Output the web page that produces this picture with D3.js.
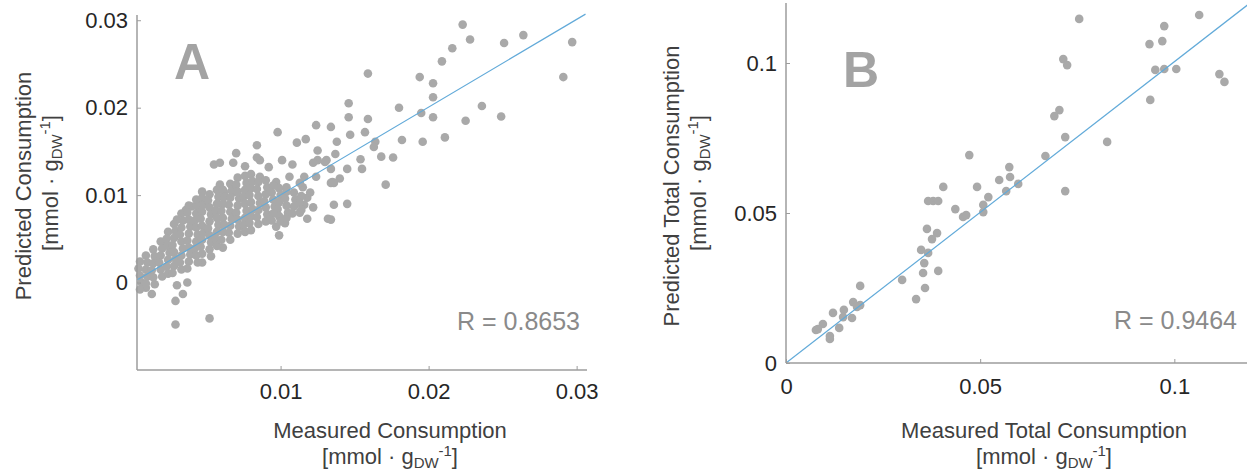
<!DOCTYPE html>
<html>
<head>
<meta charset="utf-8">
<script src="https://cdn.jsdelivr.net/npm/d3@7"></script>
<style>
  html, body { margin: 0; padding: 0; background: #fff; }
  svg { display: block; font-family: "Liberation Sans", Arial, sans-serif; }
</style>
</head>
<body>
<svg id="chart" width="1247" height="475"></svg>
<script>
// ---------- DATA ----------
// Panel A: [measured, predicted] (mmol/gDW)
const pointsA_sparse = [
  [0.0029,-0.0048],[0.0052,-0.0041],[0.0009,-0.0006],[0.0013,-0.0013],[0.0030,-0.0003],[0.0037,0.0000],[0.0034,-0.0013],[0.0029,-0.0021],
  [0.0223,0.0295],[0.0228,0.0278],[0.0216,0.0268],[0.0209,0.0253],[0.0251,0.0274],[0.0264,0.0283],[0.0297,0.0275],[0.0291,0.0235],
  [0.0159,0.0239],[0.0194,0.0235],[0.0203,0.0228],[0.0203,0.0212],[0.0236,0.0202],[0.0249,0.0190],[0.0225,0.0185],[0.0203,0.0189],[0.0195,0.0194],[0.0180,0.0200],
  [0.0211,0.0166],[0.0196,0.0161],[0.0182,0.0163],[0.0176,0.0143],[0.0168,0.0144],[0.0171,0.0112],
  [0.0146,0.0205],[0.0146,0.0189],[0.0159,0.0187],[0.0147,0.0169],[0.0157,0.0172],[0.0164,0.0161],[0.0163,0.0155],[0.0154,0.0141],[0.0155,0.0130],[0.0145,0.0130],[0.0140,0.0119],[0.0134,0.0114],[0.0136,0.0114],[0.0145,0.0090],[0.0136,0.0089],[0.0122,0.0086],[0.0132,0.0073],[0.0118,0.0073],
  [0.0138,0.0161],[0.0137,0.0147],[0.0134,0.0178],[0.0124,0.0180],[0.0117,0.0164],[0.0125,0.0151],[0.0125,0.0140],[0.0131,0.0140],[0.0134,0.0130],[0.0116,0.0121],[0.0115,0.0109],[0.0118,0.0097],[0.0116,0.0089],
  [0.0098,0.0172],[0.0111,0.0160],[0.0084,0.0157],[0.0070,0.0148],[0.0059,0.0137],[0.0055,0.0135],[0.0068,0.0137],[0.0076,0.0133],[0.0086,0.0140],[0.0092,0.0132],[0.0101,0.0140],[0.0108,0.0135],[0.0122,0.0137],
  [0.0059,0.0112],[0.0047,0.0104],[0.0068,0.0103],[0.0077,0.0106],[0.0086,0.0121],[0.0097,0.0115],[0.0104,0.0109],[0.0113,0.0114],[0.0120,0.0103],[0.0124,0.0121],[0.0084,0.0143],[0.0130,0.0138],[0.0106,0.0121],[0.0135,0.0115],[0.0134,0.0072],[0.0097,0.0064],[0.0103,0.0068],[0.0099,0.0054],[0.0113,0.0080],
  [0.0053,0.0030],[0.0047,0.0023],[0.0061,0.0040],[0.0022,0.0044],[0.0044,0.0092],[0.0036,0.0083],[0.0040,0.0087],[0.0030,0.0072],[0.0062,0.0103],[0.0067,0.0111]
];
const pointsA_dense = [
  [0.0005,0.0024],[0.0004,0.0016],[0.0005,0.0008],[0.0006,0.0000],[0.0005,-0.0008],
  [0.0009,0.0031],[0.0010,0.0023],[0.0009,0.0015],[0.0010,0.0007],[0.0009,-0.0001],
  [0.0014,0.0038],[0.0015,0.0030],[0.0014,0.0022],[0.0013,0.0014],[0.0014,0.0006],[0.0015,-0.0002],
  [0.0019,0.0047],[0.0020,0.0039],[0.0019,0.0031],[0.0018,0.0023],[0.0019,0.0015],[0.0020,0.0007],
  [0.0024,0.0058],[0.0023,0.0050],[0.0024,0.0042],[0.0025,0.0034],[0.0024,0.0026],[0.0023,0.0018],[0.0024,0.0010],
  [0.0028,0.0067],[0.0029,0.0059],[0.0028,0.0051],[0.0027,0.0043],[0.0028,0.0035],[0.0029,0.0027],[0.0028,0.0019],[0.0027,0.0011],
  [0.0033,0.0079],[0.0034,0.0071],[0.0033,0.0063],[0.0032,0.0055],[0.0033,0.0047],[0.0034,0.0039],[0.0033,0.0031],[0.0032,0.0023],[0.0033,0.0015],
  [0.0038,0.0088],[0.0037,0.0080],[0.0038,0.0072],[0.0039,0.0064],[0.0038,0.0056],[0.0037,0.0048],[0.0038,0.0040],[0.0039,0.0032],[0.0038,0.0024],[0.0037,0.0016],
  [0.0043,0.0095],[0.0044,0.0087],[0.0043,0.0079],[0.0042,0.0071],[0.0043,0.0063],[0.0044,0.0055],[0.0043,0.0047],[0.0042,0.0039],[0.0043,0.0031],[0.0044,0.0023],
  [0.0047,0.0097],[0.0048,0.0089],[0.0047,0.0081],[0.0046,0.0073],[0.0047,0.0065],[0.0048,0.0057],[0.0047,0.0049],[0.0046,0.0041],[0.0047,0.0033],
  [0.0052,0.0101],[0.0051,0.0094],[0.0052,0.0086],[0.0053,0.0078],[0.0052,0.0070],[0.0051,0.0062],[0.0052,0.0054],[0.0053,0.0046],[0.0052,0.0038],
  [0.0057,0.0106],[0.0058,0.0098],[0.0057,0.0090],[0.0056,0.0082],[0.0057,0.0074],[0.0058,0.0066],[0.0057,0.0058],[0.0056,0.0050],[0.0057,0.0042],
  [0.0061,0.0106],[0.0062,0.0098],[0.0061,0.0090],[0.0060,0.0082],[0.0061,0.0074],[0.0062,0.0066],[0.0061,0.0058],[0.0060,0.0049],
  [0.0066,0.0113],[0.0067,0.0105],[0.0066,0.0097],[0.0065,0.0089],[0.0066,0.0081],[0.0067,0.0073],[0.0066,0.0065],[0.0065,0.0057],[0.0066,0.0049],
  [0.0071,0.0120],[0.0070,0.0112],[0.0071,0.0104],[0.0072,0.0096],[0.0071,0.0088],[0.0070,0.0080],[0.0071,0.0072],[0.0072,0.0064],[0.0071,0.0056],
  [0.0076,0.0122],[0.0077,0.0114],[0.0076,0.0106],[0.0075,0.0098],[0.0076,0.0090],[0.0077,0.0082],[0.0076,0.0074],[0.0075,0.0066],[0.0076,0.0058],
  [0.0080,0.0124],[0.0081,0.0116],[0.0080,0.0108],[0.0079,0.0100],[0.0080,0.0092],[0.0081,0.0084],[0.0080,0.0076],[0.0079,0.0068],[0.0080,0.0060],
  [0.0085,0.0115],[0.0084,0.0107],[0.0085,0.0099],[0.0086,0.0091],[0.0085,0.0083],[0.0084,0.0075],[0.0085,0.0067],
  [0.0090,0.0117],[0.0091,0.0109],[0.0090,0.0101],[0.0089,0.0093],[0.0090,0.0086],[0.0091,0.0078],[0.0090,0.0070],
  [0.0095,0.0111],[0.0094,0.0103],[0.0095,0.0095],[0.0096,0.0087],[0.0095,0.0079],[0.0094,0.0071],
  [0.0099,0.0108],[0.0100,0.0100],[0.0099,0.0092],[0.0098,0.0084],[0.0099,0.0076],[0.0100,0.0070],
  [0.0104,0.0104],[0.0103,0.0096],[0.0104,0.0088],[0.0105,0.0080],[0.0104,0.0074],
  [0.0109,0.0103],[0.0110,0.0095],[0.0109,0.0087],[0.0108,0.0079],
  [0.0114,0.0099],[0.0113,0.0091],[0.0114,0.0083]
];
const fitA = [[0.0003, 0.0003], [0.0306, 0.0307]];
const rLabelA = "R = 0.8653";

// Panel B: [measured total, predicted total]
const pointsB = [
  [0.0755,0.1147],[0.1064,0.1160],[0.0974,0.1123],[0.0936,0.1063],[0.0969,0.1073],[0.0951,0.0977],[0.0974,0.0980],[0.1005,0.0980],[0.0938,0.0877],[0.1116,0.0963],[0.1129,0.0937],
  [0.0714,0.1013],[0.0724,0.0993],[0.0704,0.0843],[0.0691,0.0823],[0.0719,0.0753],[0.0827,0.0737],[0.0668,0.0690],[0.0719,0.0573],
  [0.0472,0.0693],[0.0575,0.0653],[0.0577,0.0620],[0.0549,0.0610],[0.0598,0.0597],[0.0567,0.0573],[0.0521,0.0553],[0.0492,0.0587],[0.0405,0.0587],
  [0.0379,0.0540],[0.0392,0.0540],[0.0366,0.0540],[0.0436,0.0513],[0.0456,0.0487],[0.0464,0.0493],[0.0508,0.0527],[0.0508,0.0503],[0.0389,0.0433],[0.0363,0.0447],
  [0.0376,0.0413],[0.0348,0.0377],[0.0366,0.0367],[0.0356,0.0333],[0.0392,0.0307],[0.0353,0.0300],[0.0299,0.0277],[0.0358,0.0250],[0.0335,0.0213],
  [0.0191,0.0257],[0.0191,0.0193],[0.0173,0.0203],[0.0183,0.0187],[0.0149,0.0177],[0.0170,0.0150],[0.0147,0.0153],[0.0121,0.0167],[0.0137,0.0117],
  [0.0095,0.0130],[0.0082,0.0113],[0.0077,0.0110],[0.0113,0.0080],[0.0113,0.0090]
];
const fitB = [[0, 0], [0.119, 0.1195]];
const rLabelB = "R = 0.9464";

const ticksAx = [0.01, 0.02, 0.03], ticksAxLabels = ["0.01", "0.02", "0.03"];
const ticksAy = [0, 0.01, 0.02, 0.03], ticksAyLabels = ["0", "0.01", "0.02", "0.03"];
const ticksBx = [0, 0.05, 0.1], ticksBxLabels = ["0", "0.05", "0.1"];
const ticksBy = [0, 0.05, 0.1], ticksByLabels = ["0", "0.05", "0.1"];

// ---------- DRAW ----------
const svg = d3.select("#chart");
const axisColor = "#9c9c9c", tickText = "#262626", labelColor = "#404040";
const dotColor = "#a9a9a9", lineColor = "#62aad9";

function panel(cfg) {
  const g = svg.append("g");
  const x = d3.scaleLinear().domain(cfg.xDomain).range(cfg.xRange);
  const y = d3.scaleLinear().domain(cfg.yDomain).range(cfg.yRange);

  // points
  g.append("g").selectAll("circle").data(cfg.points).join("circle")
    .attr("cx", d => x(d[0])).attr("cy", d => y(d[1])).attr("r", 4.3)
    .attr("fill", dotColor);

  // fit line
  g.append("path").datum(cfg.fit)
    .attr("d", d3.line().x(d => x(d[0])).y(d => y(d[1])))
    .attr("fill", "none").attr("stroke", lineColor).attr("stroke-width", 1.2);

  // axes
  const xa = g.append("g").attr("transform", `translate(0,${cfg.yRange[0]})`)
    .call(d3.axisBottom(x).tickValues(cfg.xTicks).tickFormat((d, i) => cfg.xTickLabels[i])
      .tickSizeInner(-4).tickSizeOuter(0).tickPadding(cfg.xPad));
  const ya = g.append("g").attr("transform", `translate(${cfg.xRange[0]},0)`)
    .call(d3.axisLeft(y).tickValues(cfg.yTicks).tickFormat((d, i) => cfg.yTickLabels[i])
      .tickSizeInner(-4).tickSizeOuter(0).tickPadding(9));
  [xa, ya].forEach(a => {
    a.select(".domain").remove();
    a.selectAll(".tick line").attr("stroke", axisColor).attr("stroke-width", 1);
    a.selectAll(".tick text").attr("fill", tickText).attr("font-size", 22)
      .attr("font-family", "Liberation Sans, Arial, sans-serif");
  });
  // axis lines
  g.append("line").attr("x1", cfg.xRange[0]).attr("x2", cfg.xRange[0])
    .attr("y1", cfg.yRange[1]).attr("y2", cfg.yRange[0])
    .attr("stroke", axisColor).attr("stroke-width", 1.5);
  g.append("line").attr("x1", cfg.xRange[0]).attr("x2", cfg.xRange[1])
    .attr("y1", cfg.yRange[0]).attr("y2", cfg.yRange[0])
    .attr("stroke", axisColor).attr("stroke-width", 1.5);

  // panel letter
  g.append("text").attr("x", cfg.letterPos[0]).attr("y", cfg.letterPos[1])
    .attr("font-size", 50).attr("font-weight", "bold").attr("fill", "#a3a3a3")
    .text(cfg.letter);

  // R label
  g.append("text").attr("x", cfg.rPos[0]).attr("y", cfg.rPos[1])
    .attr("text-anchor", "end").attr("font-size", 25).attr("fill", "#8a8a8a")
    .text(cfg.rLabel);

  // unit label helper
  function unit(sel) {
    sel.append("tspan").text("[mmol \u00B7 g");
    sel.append("tspan").attr("font-size", 15).attr("dy", 4).text("DW");
    sel.append("tspan").attr("font-size", 15).attr("dy", -12).text("-1");
    sel.append("tspan").attr("dy", 8).text("]");
  }

  // x label
  g.append("text").attr("x", cfg.xLabelPos[0]).attr("y", cfg.xLabelPos[1])
    .attr("text-anchor", "middle").attr("font-size", 22).attr("fill", labelColor)
    .text(cfg.xLabel);
  g.append("text").attr("x", cfg.xLabelPos[0]).attr("y", cfg.xLabelPos[1] + 26)
    .attr("text-anchor", "middle").attr("font-size", 22).attr("fill", labelColor)
    .call(unit);

  // y label
  g.append("text").attr("transform", `translate(${cfg.yLabelPos[0]},${cfg.yLabelPos[1]}) rotate(-90)`)
    .attr("text-anchor", "middle").attr("font-size", 22).attr("fill", labelColor)
    .text(cfg.yLabel);
  g.append("text").attr("transform", `translate(${cfg.yLabelPos[0] + 27},${cfg.yLabelPos[1] - 3}) rotate(-90)`)
    .attr("text-anchor", "middle").attr("font-size", 22).attr("fill", labelColor)
    .call(unit);
}

panel({
  points: pointsA_sparse.concat(pointsA_dense), fit: fitA,
  xDomain: [0.0003, 0.0307], xRange: [137, 587],
  yDomain: [-0.01, 0.0306], yRange: [370, 15],
  xTicks: ticksAx, xTickLabels: ticksAxLabels, yTicks: ticksAy, yTickLabels: ticksAyLabels,
  xPad: 13, letter: "A", letterPos: [174, 79], rLabel: rLabelA, rPos: [580, 330],
  xLabel: "Measured Consumption", xLabelPos: [390, 438],
  yLabel: "Predicted Consumption", yLabelPos: [31, 186]
});

panel({
  points: pointsB, fit: fitB,
  xDomain: [0, 0.12], xRange: [786, 1252],
  yDomain: [0, 0.12], yRange: [363, 3],
  xTicks: ticksBx, xTickLabels: ticksBxLabels, yTicks: ticksBy, yTickLabels: ticksByLabels,
  xPad: 15, letter: "B", letterPos: [843, 87], rLabel: rLabelB, rPos: [1237, 329],
  xLabel: "Measured Total Consumption", xLabelPos: [1044, 438],
  yLabel: "Predicted Total Consumption", yLabelPos: [679, 186]
});
</script>
</body>
</html>
